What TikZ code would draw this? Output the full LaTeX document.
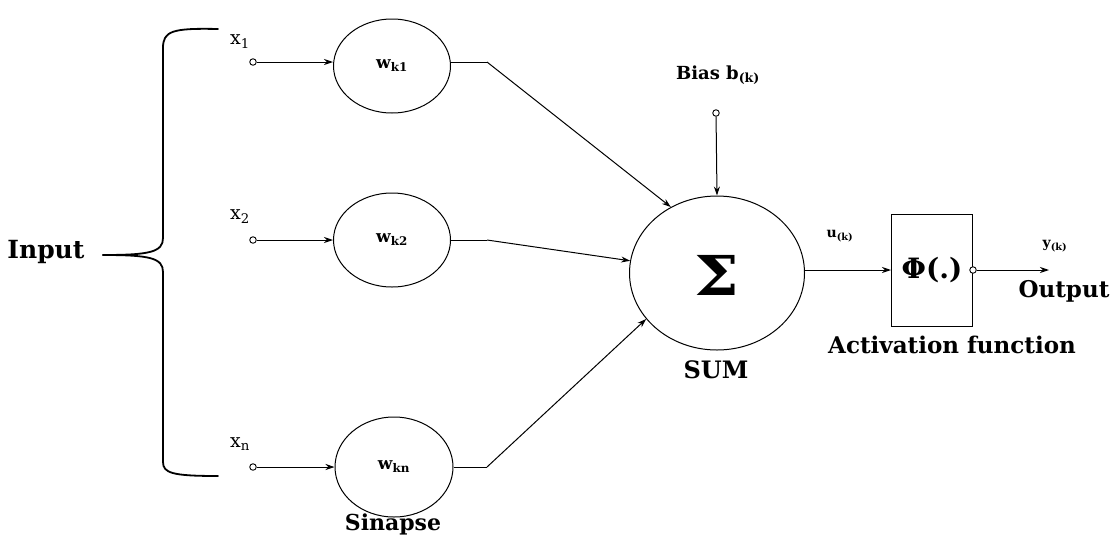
\documentclass[tikz,border=0pt]{standalone}
\usepackage{fontspec}
\setmainfont{DejaVu Serif}
\usetikzlibrary{arrows.meta,shapes.geometric}
\tikzset{
  fs/.style={font=\fontsize{#1}{#1}\selectfont},
  bold/.style={font=\fontsize{#1}{#1}\selectfont\bfseries},
  weight/.style={draw, ellipse, line width=1pt, inner sep=0pt,
    minimum width=117pt, minimum height=94pt, bold=17},
  port/.style={draw, circle, line width=0.9pt, inner sep=0pt, minimum size=6.5pt, fill=white},
  link/.style={line width=1pt, -{Stealth[length=9pt,width=6pt]}},
  brace/.style={line width=1.8pt, line cap=round},
}
\begin{document}
\begin{tikzpicture}[x=1pt,y=-1pt]
\useasboundingbox (0,0) rectangle (1118,536);

% inputs and synaptic weights
\node[weight] (w1) at (392,66) {w\textsubscript{k1}};
\node[weight] (w2) at (392,240) {w\textsubscript{k2}};
\node[weight, minimum width=118pt, minimum height=100pt] (wn) at (394,467) {w\textsubscript{kn}};

\node[port] (p1) at (253,62) {};
\node[port] (p2) at (253,240) {};
\node[port] (pn) at (253,467) {};

\node[fs=19] (x1) at (240,42) {x\textsubscript{1}};
\node[fs=19] (x2) at (240,217) {x\textsubscript{2}};
\node[fs=19] (xn) at (240,444) {x\textsubscript{n}};

\draw[link] (p1) -- (p1 -| w1.west);
\draw[link] (p2) -- (p2 -| w2.west);
\draw[link] (pn) -- (pn -| wn.west);

\node[bold=22] (sin) at (393,524) {Sinapse};

% input brace
\coordinate (bt) at (218,29);
\coordinate (bm) at (103,255);
\coordinate (bb) at (218,476);
\draw[brace] (bt) .. controls (172,28) and (163,31) .. (163,48)
  -- (163,238) .. controls (163,252) and (150,255) .. (bm);
\draw[brace] (bm) .. controls (150,255) and (163,258) .. (163,272)
  -- (163,462) .. controls (163,473) and (172,476) .. (bb);
\node[bold=25, anchor=east] (inp) at (88,252) {Input};

% summing junction
\node[draw, ellipse, line width=1pt, inner sep=0pt, minimum width=175pt,
      minimum height=154pt] (sum) at (717,273) {};
\node[font=\fontsize{55}{55}\selectfont\bfseries, xscale=1.15] (sig) at (717,275) {Σ};
\node[bold=24] (sumlbl) at (716,370) {SUM};

\coordinate (k1) at (487,62);
\coordinate (k2) at (487,240);
\coordinate (kn) at (487,467);
\draw[line width=1pt] (w1.east |- k1) -- (k1);
\draw[line width=1pt] (w2.east |- k2) -- (k2);
\draw[line width=1pt] (wn.east |- kn) -- (kn);
\draw[link] (k1) -- (sum.125);
\draw[link] (k2) -- (sum.172);
\draw[link] (kn) -- (sum.213);

% bias
\node[port] (pb) at (716,113) {};
\node[bold=18] (bias) at (718,75) {Bias b\textsubscript{(k)}};
\draw[link] (pb) -- (sum.north);

% activation function
\node[draw, line width=1pt, minimum width=81pt, minimum height=112pt, inner sep=0pt]
  (act) at (932,270) {};
\node[bold=28] (phi) at (932,270) {Φ(.)};
\node[bold=23] (actlbl) at (952,345) {Activation function};
\node[bold=14] (u) at (840,236) {u\textsubscript{(k)}};
\draw[link] (sum.east |- act.west) -- (act.west);

\node[port] (po) at (act.east) {};
\coordinate (out) at (1049,270);
\draw[link] (po) -- (out);
\node[bold=14] (y) at (1055,246) {y\textsubscript{(k)}};
\node[bold=23] (outlbl) at (1064,291) {Output};
\end{tikzpicture}
\end{document}
